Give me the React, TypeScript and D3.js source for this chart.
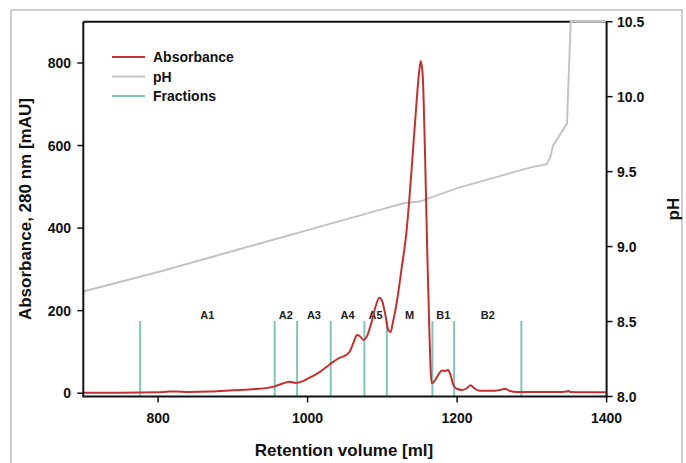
import React from "react";
import * as d3 from "d3";

const absVolume = [700, 750, 800, 815, 825, 840, 870, 900, 930, 955, 968, 976, 984, 992, 1000, 1015, 1030, 1042, 1050, 1056, 1062, 1066, 1070, 1075, 1080, 1086, 1091, 1096, 1100, 1104, 1108, 1111, 1114, 1119, 1126, 1132, 1136, 1141, 1146, 1149, 1151.5, 1154, 1157, 1160, 1163, 1164.5, 1166, 1170, 1175, 1180, 1184, 1188, 1191, 1195, 1200, 1207, 1213, 1218, 1223, 1230, 1250, 1258, 1264, 1270, 1280, 1300, 1340, 1347, 1349, 1351, 1370, 1400];
const absValue = [1, 1, 2, 4, 4, 3, 4, 7, 10, 16, 24, 28, 25, 28, 35, 50, 70, 85, 91, 100, 125, 141, 138, 129, 140, 175, 210, 231, 222, 190, 153, 148, 170, 217, 305, 386, 467, 588, 710, 775, 805, 770, 588, 350, 145, 60, 24, 30, 45, 55, 54, 56, 45, 20, 10, 8, 12, 19, 12, 6, 6, 8, 11, 6, 3, 3, 3, 4, 6, 3, 2, 2];

const phVolume = [700, 800, 900, 1000, 1100, 1130, 1150, 1200, 1250, 1300, 1320, 1325, 1328, 1338, 1347, 1352, 1400];
const phValue = [8.7, 8.83, 8.97, 9.11, 9.25, 9.29, 9.3, 9.39, 9.46, 9.53, 9.55, 9.6, 9.67, 9.75, 9.82, 10.5, 10.5];

const fractionBounds = [776, 956, 986, 1031, 1076, 1106, 1167, 1196, 1286];
const fractionNames = ["A1", "A2", "A3", "A4", "A5", "M", "B1", "B2"];
const fractionTop = 175;

const xTicks = [800, 1000, 1200, 1400];
const yTicks = [0, 200, 400, 600, 800];
const phTicks = [8.0, 8.5, 9.0, 9.5, 10.0, 10.5];

const legendNames = ["Absorbance", "pH", "Fractions"];

const RED = "#c4302e";
const GRAY = "#c3c3c3";
const TEAL = "#7fc5bd";
const FONT = "'Liberation Sans', Arial, sans-serif";

export default function App() {
  const left = 83.3, right = 606.6, top = 21.7, bottom = 396.5;
  const x = d3.scaleLinear().domain([700, 1400]).range([left, right]);
  const y = d3.scaleLinear().domain([-8, 900]).range([bottom, top]);
  const yp = d3.scaleLinear().domain([8.0, 10.5]).range([bottom, top]);

  const absLine = d3.line<number>().x((_, i) => x(absVolume[i])).y((d) => y(d)).curve(d3.curveMonotoneX);
  const phLine = d3.line<number>().x((_, i) => x(phVolume[i])).y((d) => yp(d)).curve(d3.curveLinear);

  const legendColors = [RED, GRAY, TEAL];

  return (
    <svg width={686} height={463} style={{ position: "absolute", left: 0, top: 0, background: "#fff" }} fontFamily={FONT}>
      <rect x={11} y={10} width={671} height={460} fill="none" stroke="#bdbdbd" strokeWidth={1.5} />
      {/* frame top */}
      <line x1={left} x2={right} y1={top} y2={top} stroke="#111" strokeWidth={2} />
      {/* fractions */}
      {fractionBounds.map((f, i) => (
        <line key={"f" + i} x1={x(f)} x2={x(f)} y1={y(fractionTop)} y2={bottom} stroke={TEAL} strokeWidth={2} />
      ))}
      {fractionNames.map((n, i) => (
        <text key={"fn" + i} x={x((fractionBounds[i] + fractionBounds[i + 1]) / 2)} y={319} textAnchor="middle" fontSize={11} fontWeight="bold" fill="#222">{n}</text>
      ))}
      <path d={phLine(phValue) || ""} fill="none" stroke={GRAY} strokeWidth={2} />
      <path d={absLine(absValue) || ""} fill="none" stroke={RED} strokeWidth={2} />
      {/* axes */}
      <line x1={left} x2={left} y1={top} y2={bottom} stroke="#111" strokeWidth={2} />
      <line x1={right} x2={right} y1={top} y2={bottom} stroke="#111" strokeWidth={2} />
      <line x1={left - 1} x2={right + 1} y1={bottom} y2={bottom} stroke="#111" strokeWidth={2} />
      {yTicks.map((t) => (
        <g key={"y" + t}>
          <line x1={left - 6} x2={left} y1={y(t)} y2={y(t)} stroke="#111" strokeWidth={1.5} />
          <text x={71} y={y(t) + 5} textAnchor="end" fontSize={14} fontWeight="bold" fill="#111">{t}</text>
        </g>
      ))}
      {phTicks.map((t) => (
        <g key={"p" + t}>
          <line x1={right} x2={right + 6} y1={yp(t)} y2={yp(t)} stroke="#111" strokeWidth={1.5} />
          <text x={617} y={yp(t) + 5} textAnchor="start" fontSize={14} fontWeight="bold" fill="#111">{t.toFixed(1)}</text>
        </g>
      ))}
      {xTicks.map((t) => (
        <g key={"x" + t}>
          <line x1={x(t)} x2={x(t)} y1={bottom} y2={bottom + 6} stroke="#111" strokeWidth={1.5} />
          <text x={x(t)} y={423} textAnchor="middle" fontSize={14} fontWeight="bold" fill="#111">{t}</text>
        </g>
      ))}
      <text x={344} y={456} textAnchor="middle" fontSize={17} fontWeight="bold" fill="#111">Retention volume [ml]</text>
      <text transform={`translate(31,${(top + bottom) / 2}) rotate(-90)`} textAnchor="middle" fontSize={17} fontWeight="bold" fill="#111">Absorbance, 280 nm [mAU]</text>
      <text transform={`translate(679,${(top + bottom) / 2}) rotate(-90)`} textAnchor="middle" fontSize={17} fontWeight="bold" fill="#111">pH</text>
      {/* legend */}
      {legendNames.map((n, i) => (
        <g key={"l" + i}>
          <line x1={112} x2={145} y1={57 + i * 19.5} y2={57 + i * 19.5} stroke={legendColors[i]} strokeWidth={2} />
          <text x={153} y={57 + i * 19.5 + 5} fontSize={14} fontWeight="bold" fill="#111">{n}</text>
        </g>
      ))}
    </svg>
  );
}
